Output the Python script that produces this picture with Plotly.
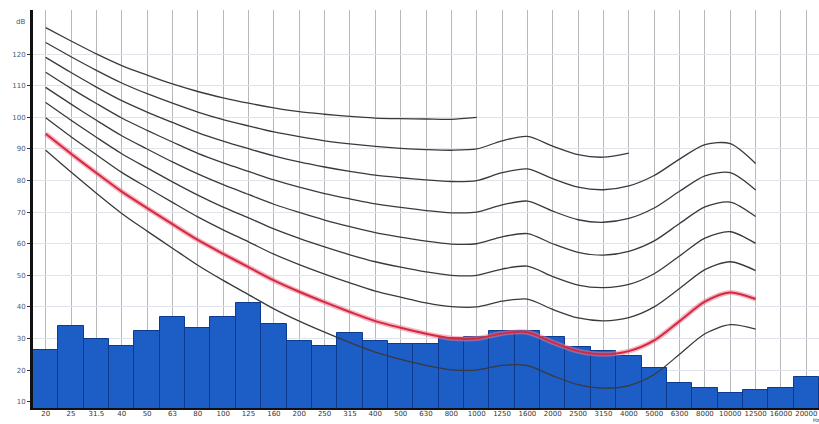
import plotly.graph_objects as go

# One-third octave band centre frequencies (Hz)
bands = ["20", "25", "31.5", "40", "50", "63", "80", "100", "125", "160", "200", "250",
         "315", "400", "500", "630", "800", "1000", "1250", "1600", "2000", "2500", "3150",
         "4000", "5000", "6300", "8000", "10000", "12500", "16000", "20000"]

# Measured band levels (dB)
levels = [26.3, 33.9, 29.8, 27.6, 32.3, 36.8, 33.3, 36.8, 41.2, 34.6, 29.2, 27.6, 31.7,
          29.2, 28.2, 28.2, 30.1, 30.4, 32.3, 32.3, 30.4, 27.3, 26.0, 24.4, 20.6, 15.9,
          14.3, 12.7, 13.7, 14.3, 17.8]

# Equal-loudness contours (dB SPL), 20 Hz .. 12.5 kHz
phon20 = [89.6, 82.7, 76.0, 69.6, 64.0, 58.6, 53.2, 48.4, 43.9, 39.4, 35.5, 32.0, 28.7, 25.7, 23.4,
          21.5, 20.1, 20.0, 21.5, 21.4, 18.2, 15.4, 14.3, 15.1, 18.6, 25.0, 31.5, 34.4, 33.0]
phon30 = [94.8, 88.5, 82.4, 76.5, 71.3, 66.2, 61.2, 56.8, 52.6, 48.4, 44.8, 41.5, 38.4, 35.5, 33.4,
          31.5, 30.1, 30.0, 31.6, 32.0, 28.8, 26.0, 25.0, 26.0, 29.4, 35.5, 41.7, 44.6, 42.5]
phon40 = [99.9, 93.9, 88.2, 82.6, 77.8, 73.1, 68.5, 64.4, 60.6, 56.7, 53.4, 50.4, 47.6, 45.0, 43.1,
          41.3, 40.1, 40.0, 41.8, 42.5, 39.2, 36.5, 35.6, 36.6, 40.0, 45.8, 51.8, 54.3, 51.5]
phon50 = [104.7, 99.1, 93.7, 88.5, 84.0, 79.6, 75.4, 71.6, 68.2, 64.7, 61.7, 59.0, 56.5, 54.3, 52.6,
          51.1, 50.0, 50.0, 52.0, 52.9, 49.6, 46.9, 46.1, 47.1, 50.5, 56.1, 61.8, 63.8, 60.1]
phon60 = [109.5, 104.2, 99.1, 94.2, 90.0, 85.9, 82.1, 78.7, 75.6, 72.5, 69.9, 67.5, 65.4, 63.5, 62.1,
          60.8, 59.9, 60.0, 62.2, 63.2, 60.0, 57.3, 56.4, 57.6, 60.9, 66.4, 71.7, 73.2, 68.6]
phon70 = [114.3, 109.2, 104.4, 99.8, 95.9, 92.2, 88.6, 85.6, 82.9, 80.2, 77.9, 75.9, 74.2, 72.6, 71.5,
          70.5, 69.8, 70.0, 72.3, 73.5, 70.3, 67.6, 66.8, 68.0, 71.3, 76.6, 81.5, 82.5, 77.0]
phon80 = [119.0, 114.2, 109.6, 105.3, 101.7, 98.4, 95.2, 92.5, 90.1, 87.8, 85.9, 84.3, 82.9, 81.7, 80.9,
          80.2, 79.7, 80.0, 82.5, 83.7, 80.6, 77.9, 77.1, 78.3, 81.6, 86.8, 91.4, 91.7, 85.4]
phon90 = [123.7, 119.2, 114.9, 110.9, 107.5, 104.5, 101.7, 99.3, 97.3, 95.4, 93.9, 92.6, 91.6, 90.8,
          90.2, 89.8, 89.6, 90.0, 92.6, 94.0, 90.9, 88.2, 87.4, 88.7]
phon100 = [128.4, 124.2, 120.1, 116.4, 113.4, 110.6, 108.2, 106.2, 104.5, 103.0, 101.8, 101.0, 100.3,
           99.8, 99.6, 99.5, 99.4, 100.0]

y_ticks = [10, 20, 30, 40, 50, 60, 70, 80, 90, 100, 110, 120]

fig = go.Figure()

fig.add_trace(go.Bar(
    x=bands, y=levels,
    marker=dict(color="#1d5dc6", line=dict(color="#0c3a8e", width=1)),
    hoverinfo="x+y",
))

line_style = dict(color="#3a3a3a", width=1.3, shape="spline", smoothing=0.8)
for curve in [phon100, phon90, phon80, phon70, phon60, phon50, phon40, phon20]:
    fig.add_trace(go.Scatter(x=bands[:len(curve)], y=curve, mode="lines",
                             line=line_style, hoverinfo="skip"))

# highlighted 30-phon contour with a soft halo
fig.add_trace(go.Scatter(x=bands[:len(phon30)], y=phon30, mode="lines",
                         line=dict(color="rgba(236,120,145,0.55)", width=5,
                                   shape="spline", smoothing=0.8),
                         hoverinfo="skip"))
fig.add_trace(go.Scatter(x=bands[:len(phon30)], y=phon30, mode="lines",
                         line=dict(color="#d42a40", width=2, shape="spline", smoothing=0.8),
                         hoverinfo="skip"))

fig.update_layout(
    width=819, height=424,
    margin=dict(l=33, r=0, t=10, b=16),
    paper_bgcolor="white", plot_bgcolor="white",
    showlegend=False, bargap=0,
    font=dict(family="DejaVu Sans", size=7, color="#444"),
    xaxis=dict(
        type="category", categoryorder="array", categoryarray=bands,
        range=[-0.5, len(bands) - 0.5],
        showgrid=True, gridcolor="#b8b8b8", gridwidth=1,
        showline=True, linecolor="#111", linewidth=2,
        ticks="", tickfont=dict(size=7, color="#333"), tickangle=0,
        ticklabelstandoff=-2,
    ),
    yaxis=dict(
        range=[8, 134], tickvals=y_ticks,
        showgrid=True, gridcolor="#dfe4ea", gridwidth=1,
        showline=True, linecolor="#111", linewidth=3,
        ticks="outside", ticklen=3, tickcolor="#333",
        tickfont=dict(size=7, color="#4a5878"),
        zeroline=False,
    ),
    annotations=[
        dict(text="dB", xref="paper", yref="paper", x=-0.024, y=0.985,
             showarrow=False, font=dict(size=7, color="#4a5878")),
        dict(text="Hz", xref="paper", yref="paper", x=0.997, y=-0.0405,
             xanchor="center", yanchor="bottom", borderpad=0,
             showarrow=False, font=dict(size=5, color="#333")),
    ],
)

fig.write_html("out.html")
